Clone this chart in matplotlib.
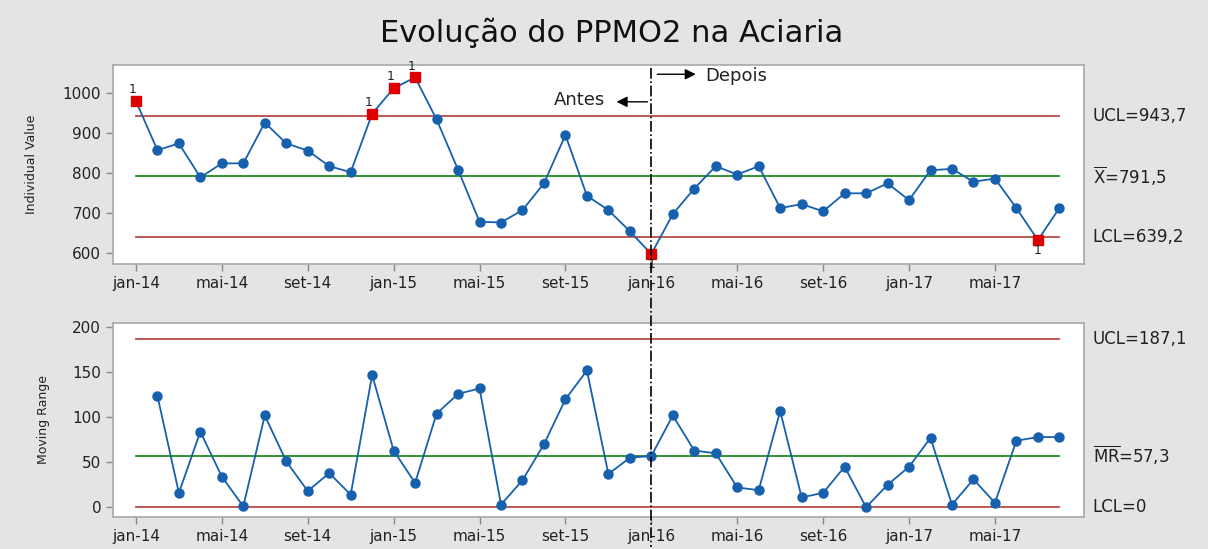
import numpy as np
import matplotlib.pyplot as plt
import matplotlib.transforms as mtransforms

# monthly PPMO2 values, jan-14 .. ago-17
months = ['jan-14', 'fev-14', 'mar-14', 'abr-14', 'mai-14', 'jun-14', 'jul-14', 'ago-14',
          'set-14', 'out-14', 'nov-14', 'dez-14', 'jan-15', 'fev-15', 'mar-15', 'abr-15',
          'mai-15', 'jun-15', 'jul-15', 'ago-15', 'set-15', 'out-15', 'nov-15', 'dez-15',
          'jan-16', 'fev-16', 'mar-16', 'abr-16', 'mai-16', 'jun-16', 'jul-16', 'ago-16',
          'set-16', 'out-16', 'nov-16', 'dez-16', 'jan-17', 'fev-17', 'mar-17', 'abr-17',
          'mai-17', 'jun-17', 'jul-17', 'ago-17']
ppmo2 = [980, 857, 874, 789, 824, 824, 926, 874, 856, 817, 802, 948, 1012, 1039, 934, 808,
         678, 676, 707, 774, 895, 743, 707, 654, 597, 697, 761, 817, 796, 817, 712, 722,
         704, 749, 749, 774, 732, 807, 810, 778, 786, 712, 632, 712]
# moving range, fev-14 .. ago-17
mr = [124, 16, 84, 34, 1, 102, 51, 18, 38, 14, 147, 63, 27, 104, 126, 132, 3, 30, 70, 120,
      152, 37, 55, 57, 102, 63, 60, 22, 19, 107, 11, 16, 45, 0, 25, 45, 77, 3, 31, 5, 74,
      78, 78]
out_idx = [0, 11, 12, 13, 24, 42]   # points flagged by test 1
ucl_i, xbar, lcl_i = 943.7, 791.5, 639.2
ucl_mr, mrbar, lcl_mr = 187.1, 57.3, 0
tick_months = ['jan-14', 'mai-14', 'set-14', 'jan-15', 'mai-15', 'set-15',
               'jan-16', 'mai-16', 'set-16', 'jan-17', 'mai-17']

x = np.arange(len(months))
xmr = x[1:]
blue = '#1660ae'
red_line = '#b84a4a'
green_line = '#228b22'
txt = '#222222'

fig = plt.figure(figsize=(12.08, 5.49), dpi=100, facecolor='#e4e4e4')
ax1 = fig.add_axes([0.0935, 0.519, 0.8039, 0.3625])
ax2 = fig.add_axes([0.0935, 0.0583, 0.8039, 0.3534])

fig.text(0.506, 0.94, 'Evolução do PPMO2 na Aciaria', ha='center', va='center',
         fontsize=22, color='#111111')

for ax in (ax1, ax2):
    ax.set_facecolor('white')
    for s in ax.spines.values():
        s.set_color('#a8a8a8')
        s.set_linewidth(1.2)
    ax.set_xlim(-1.07, 44.15)
    ax.set_xticks([months.index(m) for m in tick_months])
    ax.set_xticklabels(tick_months)
    ax.tick_params(colors='#888888', labelcolor=txt, labelsize=11, length=5, width=1)

# individual chart
ax1.plot([x[0], x[-1]], [ucl_i, ucl_i], color=red_line, lw=1.3)
ax1.plot([x[0], x[-1]], [xbar, xbar], color=green_line, lw=1.3)
ax1.plot([x[0], x[-1]], [lcl_i, lcl_i], color=red_line, lw=1.3)
ax1.plot(x, ppmo2, color=blue, lw=1.3, marker='o', ms=6.5, mfc=blue, mec=blue)
vals = np.array(ppmo2)
ax1.plot(x[out_idx], vals[out_idx], ls='none', marker='s', ms=7, mfc='#dd0000', mec='#dd0000')
for i in out_idx:
    if vals[i] > xbar:
        ax1.text(x[i] - 0.15, vals[i] + 12, '1', ha='center', va='bottom', fontsize=9, color=txt)
    else:
        ax1.text(x[i], vals[i] - 10, '1', ha='center', va='top', fontsize=9, color=txt)
ax1.set_ylim(572, 1070)
ax1.set_yticks([600, 700, 800, 900, 1000])
ax1.set_ylabel('Individual Value', fontsize=9, color=txt, labelpad=18)

# moving range chart
ax2.plot([x[0], x[-1]], [ucl_mr, ucl_mr], color=red_line, lw=1.3)
ax2.plot([x[0], x[-1]], [mrbar, mrbar], color=green_line, lw=1.3)
ax2.plot([x[0], x[-1]], [lcl_mr, lcl_mr], color=red_line, lw=1.3)
ax2.plot(xmr, mr, color=blue, lw=1.3, marker='o', ms=6.5, mfc=blue, mec=blue)
ax2.set_ylim(-10.8, 204.8)
ax2.set_yticks([0, 50, 100, 150, 200])
ax2.set_ylabel('Moving Range', fontsize=9, color=txt, labelpad=16)

# limit labels on the right
lab = dict(fontsize=12, color=txt, va='center', ha='left', clip_on=False)
xl = 44.55
ax1.text(xl, ucl_i, 'UCL=943,7', **lab)
ax1.text(xl, xbar, r'$\overline{\mathrm{X}}$=791,5', **lab)
ax1.text(xl, lcl_i, 'LCL=639,2', **lab)
ax2.text(xl, ucl_mr, 'UCL=187,1', **lab)
ax2.text(xl, mrbar, r'$\overline{\mathrm{MR}}$=57,3', **lab)
ax2.text(xl, lcl_mr, 'LCL=0', **lab)

# before / after split at jan-16
split = months.index('jan-16')
tr = mtransforms.blended_transform_factory(ax1.transData, fig.transFigure)
fig.add_artist(plt.Line2D([split, split], [1 - 68 / 549, 1 - 547 / 549], transform=tr,
                          color='black', ls='-.', lw=1.2))
arw = dict(arrowstyle='-|>', color='black', lw=1, mutation_scale=16)
ax1.annotate('', xy=(split + 2.2, 1047), xytext=(split + 0.15, 1047), arrowprops=arw)
ax1.annotate('', xy=(split - 1.75, 978), xytext=(split - 0.05, 978), arrowprops=arw)
ax1.text(split + 2.5, 1043, 'Depois', fontsize=13, color=txt, va='center', ha='left')
ax1.text(split - 2.15, 983, 'Antes', fontsize=13, color=txt, va='center', ha='right')

fig.savefig('out.png', dpi=100, facecolor=fig.get_facecolor())
